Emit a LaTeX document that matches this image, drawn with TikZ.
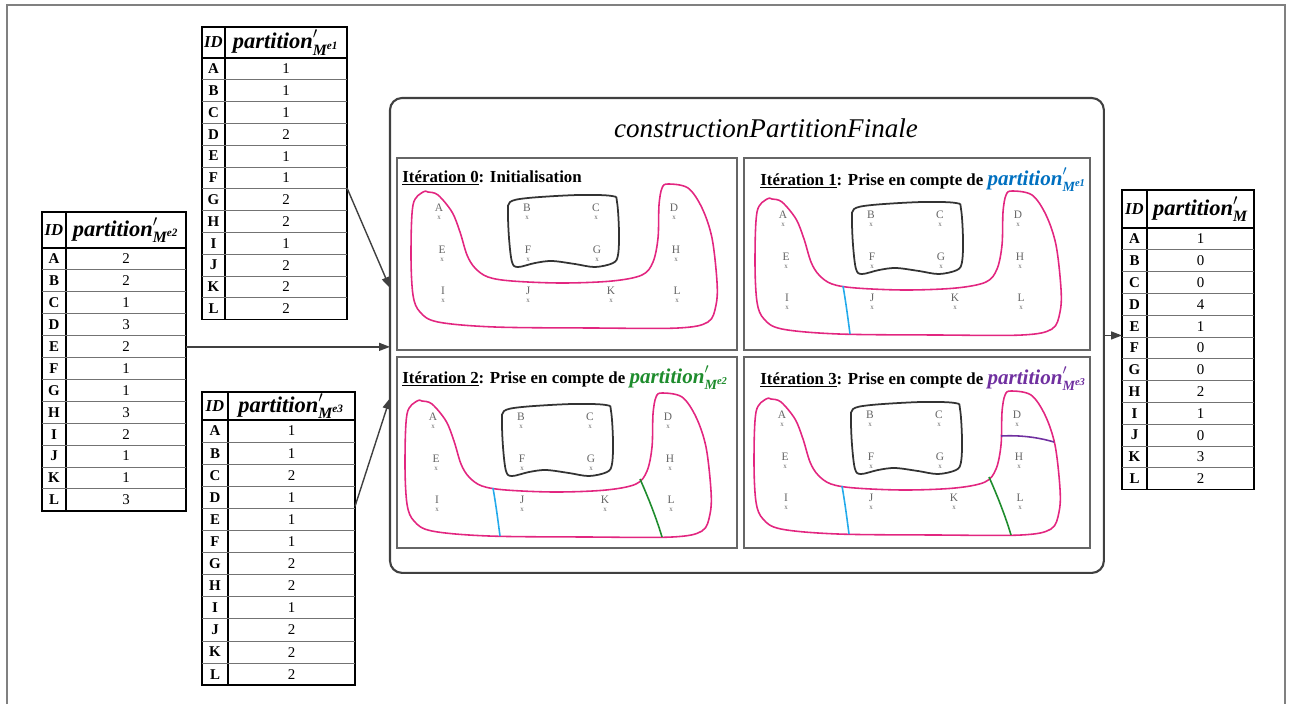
\documentclass[tikz,border=0pt]{standalone}
\usepackage{fontspec}
\setmainfont{Liberation Serif}
\usepackage{amsmath}
\usetikzlibrary{arrows.meta,calc}

\definecolor{rose}{RGB}{226,38,128}
\definecolor{bleu}{RGB}{35,170,235}
\definecolor{bleutxt}{RGB}{0,112,192}
\definecolor{vert}{RGB}{30,140,45}
\definecolor{mauve}{RGB}{112,48,160}

\newcommand{\partM}[1]{$\text{\bfseries\itshape partition}'_{\text{\bfseries\itshape M}^{\text{\bfseries\itshape #1}}}$}
\newcommand{\partMfin}{$\text{\bfseries\itshape partition}'_{\text{\bfseries\itshape M}}$}

% tableau : nom, x, y, largeur, largeur ID, hauteur entete, hauteur ligne, entete, valeurs
\newcommand{\ptable}[9]{%
  \node[tbl, minimum width={#4*0.02cm}, minimum height={(#6+12*#7)*0.02cm}] (#1) at (#2,#3) {};
  \draw[line width=1pt] ($(#1.north west)+(#5,0)$) -- ++(0,{#6+12*#7});
  \draw[line width=1pt] ($(#1.north west)+(0,#6)$) -- ++(#4,0);
  \foreach \k in {1,...,11}
    \draw[rowline] ($(#1.north west)+(0,{#6+\k*#7})$) -- ++(#4,0);
  \node[idhead] (#1-id) at ($(#1.north west)+(#5/2,#6/2)$) {ID};
  \node[colhead] (#1-head) at ($(#1.north west)+({(#4+#5)/2},#6/2)$) {#8};
  \foreach \l/\v [count=\k from 0] in {#9} {
    \node[idcell] (#1-\l) at ($(#1.north west)+(#5/2,{#6+(\k+0.5)*#7})$) {\l};
    \node[valcell] (#1-v\l) at ($(#1.north west)+({(#4+#5)/2},{#6+(\k+0.5)*#7})$) {\v};
  }
}

% contenu d'une iteration : prefixe, dx, dy, niveau
\newcommand{\contenu}[4]{%
  \begin{scope}[shift={(#2,#3)}]
    \draw[contour] plot[smooth cycle, tension=0.55] coordinates {
      (423,192) (413,205) (411,255) (413,295) (420,312) (438,322) (495,327)
      (595,328) (678,328) (708,322) (716,305) (717,282) (712,238) (702,208)
      (688,188) (668,184) (662,188) (659,205) (658,238) (653,262) (642,275)
      (612,281) (562,283) (512,281) (488,277) (475,268) (467,255) (460,232)
      (452,212) (438,195) (428,192)};
    \draw[blob] plot[smooth cycle, tension=0.55] coordinates {
      (510,202) (528,198) (578,195) (612,196) (617,202) (619,232) (618,255)
      (613,263) (595,267) (575,264) (552,261) (535,263) (518,267) (512,262)
      (509,238) (508,212)};
    \foreach \n/\px/\py in {A/439/208, B/527/208, C/596/208, D/674/208,
                            E/442/250, F/528/250, G/597/250, H/676/250,
                            I/443/291, J/528/291, K/611/291, L/677/291} {
      \node[pt] (#1\n) at (\px,\py) {\n};
      \node[ptx] (#1x\n) at (\px,{\py+10}) {x};
    }
    \ifnum#4>0 \draw[coupe, bleu] (499,279) .. controls (502,296) and (504,312) .. (506,327); \fi
    \ifnum#4>1 \draw[coupe, vert] (646,270) .. controls (654,288) and (662,308) .. (668,328); \fi
    \ifnum#4>2 \draw[coupe, mauve] (658,229) .. controls (676,228) and (694,230) .. (711,235); \fi
  \end{scope}
}

\begin{document}
\begin{tikzpicture}[x=0.02cm, y=-0.02cm,
    tbl/.style={draw, line width=1pt, anchor=north west, inner sep=0pt, outer sep=0pt},
    rowline/.style={black!55, line width=0.5pt},
    idhead/.style={font=\fontsize{9.5}{11}\selectfont\bfseries\itshape, inner sep=0pt},
    colhead/.style={font=\fontsize{12.8}{14}\selectfont, inner sep=0pt},
    idcell/.style={font=\fontsize{8.5}{10}\selectfont\bfseries, inner sep=0pt},
    valcell/.style={font=\fontsize{8.5}{10}\selectfont, inner sep=0pt},
    panel/.style={draw=black!60, line width=1pt, anchor=north west, inner sep=0pt, outer sep=0pt},
    ptitle/.style={font=\fontsize{9.6}{11}\selectfont\bfseries, anchor=base west, inner sep=0pt},
    contour/.style={rose, line width=0.9pt},
    blob/.style={black!80, line width=1pt},
    coupe/.style={line width=0.9pt},
    pt/.style={font=\fontsize{6.5}{7}\selectfont, text=black!60, inner sep=0pt},
    ptx/.style={font=\fontsize{4}{4}\selectfont, text=black!60, inner sep=0pt},
    flow/.style={-{Triangle[length=2.2mm,width=1.6mm]}, line width=0.8pt, black!75}]

  \useasboundingbox (0,0) rectangle (1293,704);
  % cadre exterieur
  \draw[black!50, line width=0.6pt] (7,704) -- (7,5) -- (1285,5) -- (1285,704);

  % tableaux d'entree et de sortie
  \ptable{me1}{202}{27}{145}{23}{31}{21.8}{\partM{e1}}%
    {A/1,B/1,C/1,D/2,E/1,F/1,G/2,H/2,I/1,J/2,K/2,L/2}
  \ptable{me2}{42}{212}{144}{24}{36}{21.9}{\partM{e2}}%
    {A/2,B/2,C/1,D/3,E/2,F/1,G/1,H/3,I/2,J/1,K/1,L/3}
  \ptable{me3}{202}{392}{153}{26}{28}{22.1}{\partM{e3}}%
    {A/1,B/1,C/2,D/1,E/1,F/1,G/2,H/2,I/1,J/2,K/2,L/2}
  \ptable{mfin}{1122}{190}{132}{25}{38}{21.8}{\partMfin}%
    {A/1,B/0,C/0,D/4,E/1,F/0,G/0,H/2,I/1,J/0,K/3,L/2}

  % boite principale
  \node[draw=black!75, line width=1.2pt, rounded corners=0.24cm, anchor=north west,
        inner sep=0pt, outer sep=0pt, minimum width=14.28cm, minimum height=9.5cm]
        (mainbox) at (390,98) {};
  \node[font=\fontsize{15.4}{18}\selectfont\itshape] (titre) at (766,128) {constructionPartitionFinale};

  % iterations
  \node[panel, minimum width=6.8cm, minimum height=3.84cm] (iter0) at (397,158) {};
  \node[panel, minimum width=6.92cm, minimum height=3.84cm] (iter1) at (744,158) {};
  \node[panel, minimum width=6.8cm, minimum height=3.82cm] (iter2) at (397,357) {};
  \node[panel, minimum width=6.92cm, minimum height=3.82cm] (iter3) at (744,357) {};

  \node[ptitle] (titre0) at (402,182) {\underline{Itération 0}: Initialisation};
  \node[ptitle] (titre1) at (760,185) {\underline{Itération 1}: Prise en compte de {\color{bleutxt}\fontsize{12}{14}\selectfont\partM{e1}}};
  \node[ptitle] (titre2) at (402,383) {\underline{Itération 2}: Prise en compte de {\color{vert}\fontsize{12}{14}\selectfont\partM{e2}}};
  \node[ptitle] (titre3) at (760,384) {\underline{Itération 3}: Prise en compte de {\color{mauve}\fontsize{12}{14}\selectfont\partM{e3}}};

  \contenu{a}{0}{0}{0}
  \contenu{b}{344}{7}{1}
  \contenu{c}{-6}{209}{2}
  \contenu{d}{343}{207}{3}

  % fleches
  \coordinate (in1) at ($(mainbox.north west)!0.4!(mainbox.south west)$);
  \coordinate (in2) at ($(mainbox.north west)!0.524!(mainbox.south west)$);
  \coordinate (in3) at ($(mainbox.north west)!0.632!(mainbox.south west)$);
  \coordinate (out1) at ($(me1.north east)!0.55!(me1.south east)$);
  \coordinate (out3) at ($(me3.north east)!0.39!(me3.south east)$);
  \draw[flow] (out1) -- (in1);
  \draw[flow] (me2.east |- in2) -- (in2);
  \draw[flow] (out3) -- (in3);
  \draw[flow] (mainbox.east) -- (mfin.west |- mainbox.east);
\end{tikzpicture}
\end{document}
